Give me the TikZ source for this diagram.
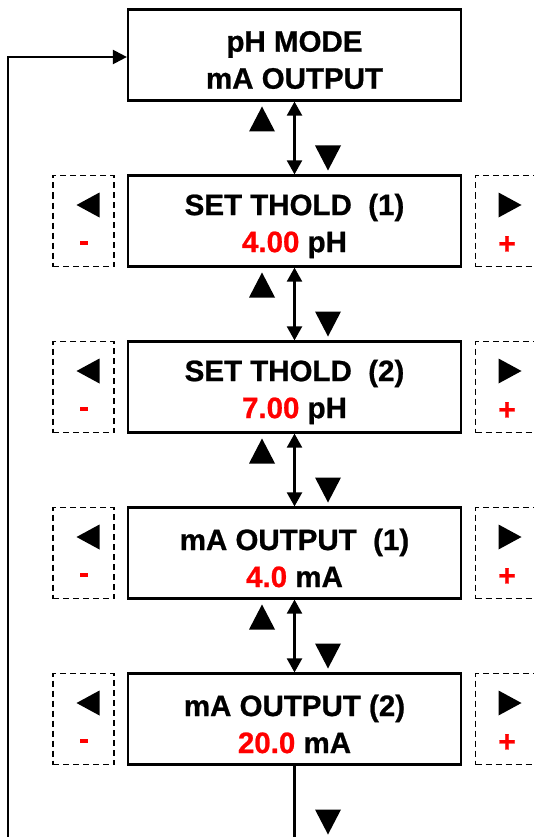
\documentclass[tikz,border=0pt]{standalone}
\usepackage{fontspec}
\setmainfont{Liberation Sans}[BoldFeatures={FakeBold=0.8}]
\usetikzlibrary{arrows.meta,calc}
\definecolor{pred}{RGB}{255,0,0}
\tikzset{
  mainbox/.style={draw, line width=2.2pt, minimum width=333pt, minimum height=91pt,
    inner sep=0pt},
  maintxt/.style={align=center, inner sep=0pt, font=\bfseries\fontsize{29.5}{37}\selectfont},
  keybox/.style={draw, line width=1.5pt, dash pattern=on 6pt off 4pt, minimum width=61pt,
    minimum height=91pt, inner sep=0pt},
  signtxt/.style={text=pred, font=\bfseries\fontsize{30}{30}\selectfont, inner sep=0pt},
  dbl/.style={line width=2.2pt, {Triangle[length=14pt,width=15pt]}-{Triangle[length=14pt,width=15pt]}},
  conn/.style={line width=2.2pt},
  arr/.style={line width=2.2pt, -{Triangle[length=14pt,width=14pt]}},
  tup/.pic={\fill (-13,12.5) -- (13,12.5) -- (0,-12.5) -- cycle;},
  tdown/.pic={\fill (-13,-12.5) -- (13,-12.5) -- (0,12.5) -- cycle;},
  tleft/.pic={\fill (11.5,-12.5) -- (11.5,12.5) -- (-11.5,0) -- cycle;},
  tright/.pic={\fill (-11.5,-12.5) -- (-11.5,12.5) -- (11.5,0) -- cycle;},
}
\newcommand{\rv}[1]{\textcolor{pred}{#1}}
\begin{document}
\begin{tikzpicture}[x=1pt,y=-1pt]
\useasboundingbox (0,0) rectangle (533,837);

% main boxes
\node[mainbox] (b0) at (294.5,55)    {};
\node[mainbox] (b1) at (294.5,221)   {};
\node[mainbox] (b2) at (294.5,387)   {};
\node[mainbox] (b3) at (294.5,553)   {};
\node[mainbox] (b4) at (294.5,719)   {};
\node[maintxt] (t0) at ([yshift=-5pt]b0.center) {pH MODE\\mA OUTPUT};
\node[maintxt] (t1) at ([yshift=-5pt]b1.center) {SET THOLD\ \ (1)\\\rv{4.00} pH};
\node[maintxt] (t2) at ([yshift=-5pt]b2.center) {SET THOLD\ \ (2)\\\rv{7.00} pH};
\node[maintxt] (t3) at ([yshift=-5pt]b3.center) {mA OUTPUT\ \ (1)\\\rv{4.0} mA};
\node[maintxt] (t4) at ([yshift=-5pt]b4.center) {mA OUTPUT (2)\\\rv{20.0} mA};

% key boxes
\foreach \c [count=\i] in {221,387,553,719}{
  \node[keybox] (kl\i) at (83.5,\c) {};
  \node[keybox] (kr\i) at (506,\c) {};
  \pic at (88,\c-16) {tleft};
  \pic at (510,\c-16) {tright};
  \node[signtxt] (km\i) at (84,\c+25) {-};
  \node[signtxt] (kp\i) at (507,\c+24) {+};
}

% double arrows between boxes
\draw[dbl] (b0.south) -- (b1.north);
\draw[dbl] (b1.south) -- (b2.north);
\draw[dbl] (b2.south) -- (b3.north);
\draw[dbl] (b3.south) -- (b4.north);

% up / down markers
\foreach \yb in {100,266,432,598}{
  \pic at (262,\yb+19) {tup};
  \pic at (328,\yb+58) {tdown};
}

% bottom line and loop back
\coordinate (bend) at (294.5,845);
\draw[conn] (b4.south) -- (bend);
\pic at (328,822) {tdown};
\coordinate (lbot) at (8,845);
\draw[arr] (lbot) |- ([yshift=-2pt]b0.west);
\end{tikzpicture}
\end{document}
